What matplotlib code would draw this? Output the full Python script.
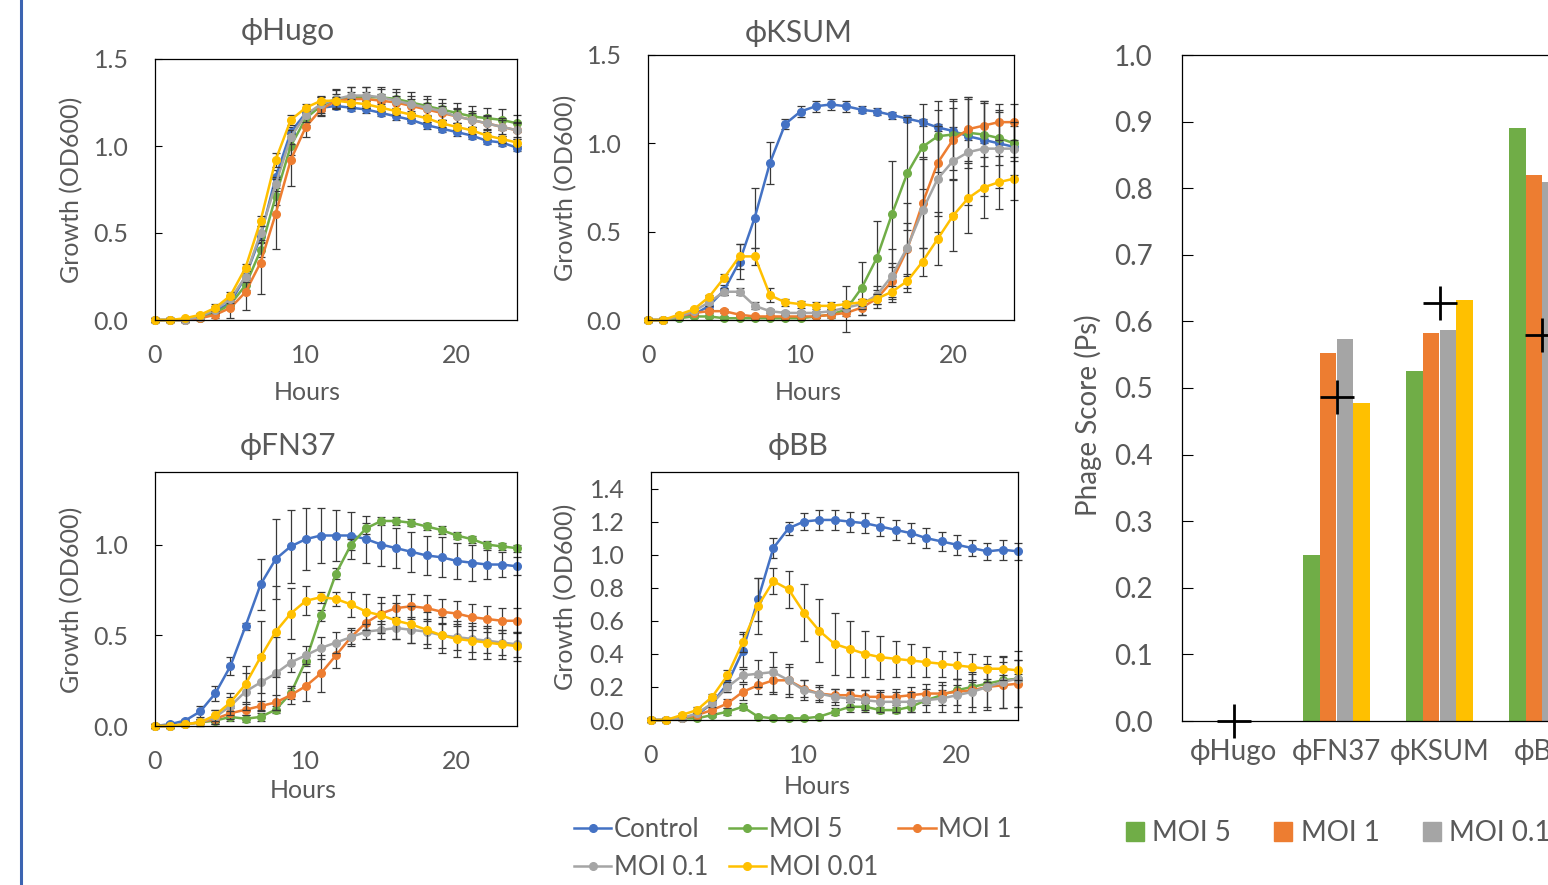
import matplotlib
matplotlib.use("Agg")
import matplotlib.pyplot as plt
from matplotlib.lines import Line2D
from matplotlib.patches import Patch

# ---- data ----
hours = [0, 1, 2, 3, 4, 5, 6, 7, 8, 9, 10, 11, 12, 13, 14, 15, 16, 17, 18, 19, 20, 21, 22, 23, 24]
series_names = ["Control", "MOI 5", "MOI 1", "MOI 0.1", "MOI 0.01"]

hugo_ctrl = [0, 0, 0, 0.01, 0.05, 0.10, 0.25, 0.48, 0.82, 1.08, 1.19, 1.22, 1.23, 1.22, 1.21, 1.19, 1.17, 1.15, 1.12, 1.10, 1.08, 1.06, 1.03, 1.02, 0.99]
hugo_moi5 = [0, 0, 0, 0.01, 0.04, 0.09, 0.20, 0.40, 0.71, 1.00, 1.16, 1.23, 1.27, 1.28, 1.28, 1.28, 1.27, 1.25, 1.23, 1.21, 1.19, 1.17, 1.16, 1.15, 1.13]
hugo_moi1 = [0, 0, 0, 0.01, 0.03, 0.07, 0.16, 0.33, 0.61, 0.92, 1.11, 1.21, 1.26, 1.27, 1.27, 1.26, 1.25, 1.23, 1.21, 1.19, 1.17, 1.15, 1.13, 1.11, 1.09]
hugo_moi01 = [0, 0, 0, 0.02, 0.06, 0.12, 0.25, 0.50, 0.78, 1.05, 1.18, 1.24, 1.27, 1.29, 1.29, 1.28, 1.26, 1.24, 1.22, 1.20, 1.17, 1.15, 1.13, 1.11, 1.09]
hugo_moi001 = [0, 0, 0.01, 0.03, 0.07, 0.14, 0.30, 0.57, 0.92, 1.15, 1.22, 1.26, 1.26, 1.25, 1.24, 1.22, 1.20, 1.18, 1.16, 1.13, 1.11, 1.09, 1.06, 1.04, 1.02]
hugo_ctrl_err = [0.01, 0.01, 0.01, 0.01, 0.01, 0.02, 0.02, 0.03, 0.04, 0.03, 0.02, 0.02, 0.02, 0.02, 0.02, 0.02, 0.02, 0.02, 0.02, 0.02, 0.02, 0.02, 0.02, 0.02, 0.02]
hugo_moi5_err = [0.01, 0.01, 0.01, 0.01, 0.01, 0.02, 0.03, 0.04, 0.05, 0.05, 0.04, 0.05, 0.06, 0.06, 0.06, 0.06, 0.06, 0.06, 0.06, 0.06, 0.06, 0.06, 0.06, 0.06, 0.05]
hugo_moi1_err = [0.01, 0.01, 0.01, 0.01, 0.02, 0.06, 0.10, 0.18, 0.20, 0.15, 0.06, 0.04, 0.04, 0.04, 0.04, 0.04, 0.04, 0.04, 0.04, 0.04, 0.04, 0.04, 0.04, 0.04, 0.04]
hugo_moi01_err = [0.01, 0.01, 0.01, 0.01, 0.02, 0.02, 0.03, 0.04, 0.04, 0.04, 0.04, 0.05, 0.05, 0.05, 0.05, 0.05, 0.05, 0.05, 0.05, 0.05, 0.05, 0.05, 0.05, 0.05, 0.05]
hugo_moi001_err = [0.01, 0.01, 0.01, 0.01, 0.02, 0.02, 0.02, 0.03, 0.04, 0.03, 0.02, 0.02, 0.02, 0.02, 0.02, 0.02, 0.02, 0.02, 0.02, 0.02, 0.02, 0.02, 0.02, 0.02, 0.02]

ksum_ctrl = [0, 0, 0.01, 0.03, 0.08, 0.17, 0.33, 0.58, 0.89, 1.11, 1.18, 1.21, 1.22, 1.21, 1.19, 1.18, 1.16, 1.14, 1.12, 1.09, 1.07, 1.04, 1.02, 1.00, 0.98]
ksum_moi5 = [0, 0, 0.01, 0.02, 0.02, 0.01, 0.01, 0.01, 0.01, 0.01, 0.01, 0.02, 0.03, 0.06, 0.18, 0.35, 0.60, 0.83, 0.98, 1.04, 1.05, 1.06, 1.05, 1.03, 1.00]
ksum_moi1 = [0, 0, 0.02, 0.04, 0.05, 0.05, 0.03, 0.02, 0.02, 0.02, 0.02, 0.02, 0.03, 0.04, 0.07, 0.12, 0.22, 0.40, 0.66, 0.89, 1.02, 1.08, 1.10, 1.12, 1.12]
ksum_moi01 = [0, 0, 0.02, 0.05, 0.10, 0.16, 0.16, 0.08, 0.05, 0.04, 0.04, 0.04, 0.05, 0.07, 0.09, 0.14, 0.25, 0.41, 0.62, 0.80, 0.90, 0.95, 0.97, 0.97, 0.97]
ksum_moi001 = [0, 0, 0.03, 0.06, 0.13, 0.24, 0.36, 0.36, 0.14, 0.10, 0.09, 0.08, 0.08, 0.09, 0.10, 0.12, 0.16, 0.22, 0.33, 0.46, 0.59, 0.69, 0.75, 0.78, 0.80]
ksum_ctrl_err = [0.01, 0.01, 0.01, 0.01, 0.02, 0.03, 0.10, 0.17, 0.12, 0.03, 0.03, 0.03, 0.03, 0.03, 0.02, 0.02, 0.02, 0.02, 0.02, 0.02, 0.02, 0.02, 0.02, 0.02, 0.02]
ksum_moi5_err = [0.01, 0.01, 0.01, 0.01, 0.01, 0.01, 0.01, 0.01, 0.01, 0.01, 0.01, 0.01, 0.02, 0.13, 0.15, 0.21, 0.30, 0.32, 0.24, 0.20, 0.20, 0.20, 0.18, 0.15, 0.10]
ksum_moi1_err = [0.01, 0.01, 0.01, 0.01, 0.01, 0.01, 0.01, 0.01, 0.01, 0.01, 0.01, 0.01, 0.01, 0.02, 0.04, 0.05, 0.10, 0.15, 0.25, 0.30, 0.22, 0.18, 0.14, 0.10, 0.10]
ksum_moi01_err = [0.01, 0.01, 0.01, 0.01, 0.02, 0.02, 0.02, 0.02, 0.01, 0.01, 0.01, 0.01, 0.01, 0.02, 0.03, 0.05, 0.15, 0.25, 0.30, 0.30, 0.30, 0.30, 0.27, 0.22, 0.15]
ksum_moi001_err = [0.01, 0.01, 0.01, 0.01, 0.01, 0.02, 0.07, 0.05, 0.04, 0.02, 0.02, 0.02, 0.02, 0.02, 0.02, 0.03, 0.03, 0.04, 0.08, 0.15, 0.20, 0.20, 0.17, 0.15, 0.12]

fn37_ctrl = [0, 0.01, 0.03, 0.08, 0.18, 0.33, 0.55, 0.78, 0.92, 0.99, 1.03, 1.05, 1.05, 1.05, 1.03, 1.00, 0.98, 0.96, 0.94, 0.93, 0.91, 0.90, 0.89, 0.89, 0.88]
fn37_moi5 = [0, 0, 0.01, 0.02, 0.03, 0.05, 0.04, 0.05, 0.09, 0.18, 0.36, 0.61, 0.84, 1.00, 1.09, 1.13, 1.13, 1.12, 1.10, 1.08, 1.05, 1.03, 1.00, 0.99, 0.98]
fn37_moi1 = [0, 0, 0.01, 0.02, 0.04, 0.07, 0.09, 0.11, 0.13, 0.17, 0.22, 0.29, 0.39, 0.49, 0.57, 0.62, 0.65, 0.66, 0.65, 0.63, 0.62, 0.60, 0.59, 0.58, 0.58]
fn37_moi01 = [0, 0, 0.01, 0.02, 0.05, 0.11, 0.19, 0.24, 0.29, 0.35, 0.39, 0.43, 0.46, 0.49, 0.52, 0.53, 0.54, 0.53, 0.52, 0.50, 0.49, 0.48, 0.47, 0.46, 0.45]
fn37_moi001 = [0, 0, 0.01, 0.02, 0.06, 0.13, 0.23, 0.38, 0.52, 0.62, 0.69, 0.71, 0.70, 0.67, 0.63, 0.61, 0.58, 0.56, 0.53, 0.50, 0.48, 0.47, 0.46, 0.45, 0.44]
fn37_ctrl_err = [0.01, 0.01, 0.01, 0.03, 0.04, 0.05, 0.02, 0.14, 0.22, 0.20, 0.17, 0.15, 0.14, 0.13, 0.13, 0.12, 0.11, 0.11, 0.11, 0.11, 0.10, 0.10, 0.08, 0.07, 0.05]
fn37_moi5_err = [0.01, 0.01, 0.01, 0.01, 0.02, 0.02, 0.02, 0.02, 0.02, 0.03, 0.03, 0.03, 0.03, 0.03, 0.03, 0.02, 0.02, 0.02, 0.02, 0.02, 0.02, 0.02, 0.02, 0.02, 0.02]
fn37_moi1_err = [0.01, 0.01, 0.01, 0.01, 0.02, 0.03, 0.03, 0.03, 0.04, 0.05, 0.08, 0.10, 0.07, 0.04, 0.06, 0.06, 0.07, 0.07, 0.07, 0.07, 0.07, 0.07, 0.07, 0.07, 0.07]
fn37_moi01_err = [0.01, 0.01, 0.01, 0.02, 0.04, 0.05, 0.10, 0.15, 0.20, 0.05, 0.05, 0.06, 0.06, 0.05, 0.04, 0.05, 0.06, 0.07, 0.07, 0.07, 0.07, 0.07, 0.07, 0.07, 0.07]
fn37_moi001_err = [0.01, 0.01, 0.01, 0.02, 0.03, 0.05, 0.10, 0.20, 0.25, 0.14, 0.08, 0.03, 0.04, 0.07, 0.10, 0.10, 0.10, 0.10, 0.10, 0.10, 0.10, 0.10, 0.09, 0.08, 0.08]

bb_ctrl = [0, 0, 0.01, 0.03, 0.10, 0.22, 0.42, 0.73, 1.04, 1.16, 1.20, 1.21, 1.21, 1.20, 1.19, 1.17, 1.15, 1.13, 1.10, 1.08, 1.06, 1.04, 1.02, 1.03, 1.02]
bb_moi5 = [0, 0, 0.01, 0.01, 0.03, 0.05, 0.08, 0.02, 0.01, 0.01, 0.01, 0.02, 0.05, 0.08, 0.08, 0.06, 0.06, 0.08, 0.12, 0.15, 0.18, 0.20, 0.22, 0.24, 0.25]
bb_moi1 = [0, 0, 0.01, 0.03, 0.06, 0.10, 0.17, 0.21, 0.24, 0.24, 0.19, 0.16, 0.15, 0.15, 0.14, 0.14, 0.14, 0.15, 0.16, 0.16, 0.17, 0.18, 0.20, 0.21, 0.22]
bb_moi01 = [0, 0, 0.01, 0.04, 0.10, 0.20, 0.27, 0.28, 0.29, 0.24, 0.18, 0.16, 0.14, 0.13, 0.12, 0.11, 0.11, 0.11, 0.12, 0.13, 0.15, 0.17, 0.20, 0.23, 0.25]
bb_moi001 = [0, 0, 0.03, 0.06, 0.14, 0.27, 0.47, 0.69, 0.84, 0.79, 0.65, 0.54, 0.46, 0.43, 0.40, 0.38, 0.37, 0.36, 0.35, 0.34, 0.33, 0.32, 0.31, 0.31, 0.30]
bb_ctrl_err = [0.01, 0.01, 0.01, 0.01, 0.02, 0.05, 0.10, 0.13, 0.06, 0.04, 0.05, 0.06, 0.06, 0.06, 0.06, 0.06, 0.06, 0.06, 0.06, 0.06, 0.06, 0.05, 0.05, 0.06, 0.05]
bb_moi5_err = [0.01, 0.01, 0.01, 0.01, 0.01, 0.02, 0.02, 0.01, 0.01, 0.01, 0.01, 0.01, 0.02, 0.03, 0.03, 0.02, 0.02, 0.03, 0.03, 0.03, 0.03, 0.03, 0.03, 0.03, 0.03]
bb_moi1_err = [0.01, 0.01, 0.01, 0.01, 0.02, 0.03, 0.05, 0.05, 0.08, 0.08, 0.05, 0.04, 0.04, 0.04, 0.04, 0.04, 0.05, 0.05, 0.06, 0.07, 0.08, 0.10, 0.12, 0.14, 0.14]
bb_moi01_err = [0.01, 0.01, 0.01, 0.01, 0.02, 0.03, 0.04, 0.08, 0.12, 0.10, 0.06, 0.05, 0.05, 0.05, 0.06, 0.06, 0.06, 0.06, 0.07, 0.08, 0.10, 0.12, 0.14, 0.16, 0.17]
bb_moi001_err = [0.01, 0.01, 0.01, 0.02, 0.02, 0.03, 0.06, 0.17, 0.08, 0.11, 0.17, 0.19, 0.19, 0.17, 0.14, 0.13, 0.11, 0.10, 0.09, 0.08, 0.08, 0.08, 0.08, 0.07, 0.06]

phages = ["ϕHugo", "ϕFN37", "ϕKSUM", "ϕBB"]
score_moi5 = [0, 0.25, 0.525, 0.89]
score_moi1 = [0, 0.553, 0.583, 0.82]
score_moi01 = [0, 0.573, 0.587, 0.81]
score_moi001 = [0, 0.477, 0.632, 0.80]
score_overall = [0, 0.487, 0.628, 0.58]
bar_names = ["MOI 5", "MOI 1", "MOI 0.1", "MOI 0.01"]

# ---- style ----
colors = ["#4472C4", "#70AD47", "#ED7D31", "#A5A5A5", "#FFC000"]
bar_colors = ["#70AD47", "#ED7D31", "#A5A5A5", "#FFC000"]
TXT = "#595959"
plt.rcParams["font.family"] = ["Lato", "DejaVu Sans"]

W, H = 1548, 885
fig = plt.figure(figsize=(W / 100, H / 100), dpi=100)


def px_rect(l, t, r, b):
    return [l / W, 1 - b / H, (r - l) / W, (b - t) / H]


def fx(x, y):
    return (x / W, 1 - y / H)


def growth_panel(rect, title, title_at, series, errs, ylim, yticks, ylab_at, xlab_at):
    ax = fig.add_axes(rect)
    lines = []
    for vals, err, col in zip(series, errs, colors):
        ax.errorbar(hours, vals, yerr=err, fmt="none", ecolor="#3a3a3a",
                    elinewidth=0.9, capsize=3, capthick=0.9, clip_on=False)
        ln, = ax.plot(hours, vals, color=col, lw=1.8, marker="o", ms=5.5,
                      clip_on=False)
        lines.append(ln)
    ax.set_xlim(0, 24)
    ax.set_ylim(*ylim)
    ax.set_xticks([0, 10, 20])
    ax.set_yticks(yticks)
    ax.set_yticklabels([f"{v:.1f}" for v in yticks])
    ax.tick_params(axis="y", direction="in", length=5, width=0.8, pad=19,
                   labelsize=18, labelcolor=TXT)
    ax.tick_params(axis="x", length=0, pad=17, labelsize=18, labelcolor=TXT)
    for sp in ax.spines.values():
        sp.set_linewidth(0.9)
        sp.set_color("black")
    ax.set_ylabel("Growth (OD600)", fontsize=18, color=TXT, va="center", ha="center")
    ax.yaxis.set_label_coords(*fx(*ylab_at), transform=fig.transFigure)
    ax.set_xlabel("Hours", fontsize=18, color=TXT, va="center", ha="center")
    ax.xaxis.set_label_coords(*fx(*xlab_at), transform=fig.transFigure)
    fig.text(*fx(*title_at), title, fontsize=21.5, color=TXT, ha="center", va="center")
    return lines


lines = growth_panel(px_rect(155, 59, 517, 320), "ϕHugo", (288, 31),
                     [hugo_ctrl, hugo_moi5, hugo_moi1, hugo_moi01, hugo_moi001],
                     [hugo_ctrl_err, hugo_moi5_err, hugo_moi1_err, hugo_moi01_err, hugo_moi001_err],
                     (0, 1.5), [0, 0.5, 1.0, 1.5], (72, 190), (307, 392))
growth_panel(px_rect(648, 55, 1014, 320), "ϕKSUM", (799, 33),
             [ksum_ctrl, ksum_moi5, ksum_moi1, ksum_moi01, ksum_moi001],
             [ksum_ctrl_err, ksum_moi5_err, ksum_moi1_err, ksum_moi01_err, ksum_moi001_err],
             (0, 1.5), [0, 0.5, 1.0, 1.5], (566, 188), (808, 392))
growth_panel(px_rect(155, 472, 517, 726), "ϕFN37", (288, 446),
             [fn37_ctrl, fn37_moi5, fn37_moi1, fn37_moi01, fn37_moi001],
             [fn37_ctrl_err, fn37_moi5_err, fn37_moi1_err, fn37_moi01_err, fn37_moi001_err],
             (0, 1.4), [0, 0.5, 1.0], (72, 600), (303, 790))
growth_panel(px_rect(651, 472, 1018, 720), "ϕBB", (798, 446),
             [bb_ctrl, bb_moi5, bb_moi1, bb_moi01, bb_moi001],
             [bb_ctrl_err, bb_moi5_err, bb_moi1_err, bb_moi01_err, bb_moi001_err],
             (0, 1.5), [0, 0.2, 0.4, 0.6, 0.8, 1.0, 1.2, 1.4], (566, 597), (817, 787))

# legend for the growth curves (matplotlib fills columns first, so reorder)
order = [0, 3, 1, 4, 2]
fig.legend([lines[i] for i in order], [series_names[i] for i in order],
           ncol=3, loc="upper left", bbox_to_anchor=fx(574, 817), frameon=False,
           fontsize=18.5, labelcolor=TXT, handlelength=1.45, handletextpad=0.1,
           columnspacing=0.8, labelspacing=0.5, borderpad=0, borderaxespad=0)

# ---- phage score bar chart ----
bx = fig.add_axes(px_rect(1182, 55, 1594, 721))
pos = list(range(len(phages)))
bw = 0.165
for k, (vals, col) in enumerate(zip([score_moi5, score_moi1, score_moi01, score_moi001], bar_colors)):
    bx.bar([p + (k - 1.5) * bw for p in pos], vals, width=bw, color=col, label=bar_names[k])
bx.plot(pos, score_overall, ls="none", marker="+", ms=24, mew=2, color="black",
        clip_on=False, zorder=5)
bx.set_xlim(-0.5, len(phages) - 0.5)
bx.set_ylim(0, 1.0)
yt = [i / 10 for i in range(11)]
bx.set_yticks(yt)
bx.set_yticklabels([f"{v:.1f}" for v in yt])
bx.set_xticks(pos)
bx.set_xticklabels(phages)
bx.tick_params(axis="y", direction="in", length=8, width=0.8, pad=21,
               labelsize=20, labelcolor=TXT)
bx.tick_params(axis="x", length=0, pad=13, labelsize=20, labelcolor=TXT)
for sp in bx.spines.values():
    sp.set_linewidth(0.9)
    sp.set_color("black")
bx.set_ylabel("Phage Score (Ps)", fontsize=20, color=TXT, va="center", ha="center")
bx.yaxis.set_label_coords(*fx(1088, 415), transform=fig.transFigure)

fig.legend([Patch(color=c) for c in bar_colors], bar_names, ncol=4,
           loc="center left", bbox_to_anchor=fx(1126, 833), frameon=False,
           fontsize=20, labelcolor=TXT, handlelength=0.65, handleheight=0.65,
           handletextpad=0.3, columnspacing=1.55, borderpad=0, borderaxespad=0)

# blue rule at the left edge
fig.add_artist(Line2D([21 / W, 21 / W], [0, 1], transform=fig.transFigure,
                      color="#3C64B1", lw=2.2))

fig.savefig("out.png", dpi=100)
